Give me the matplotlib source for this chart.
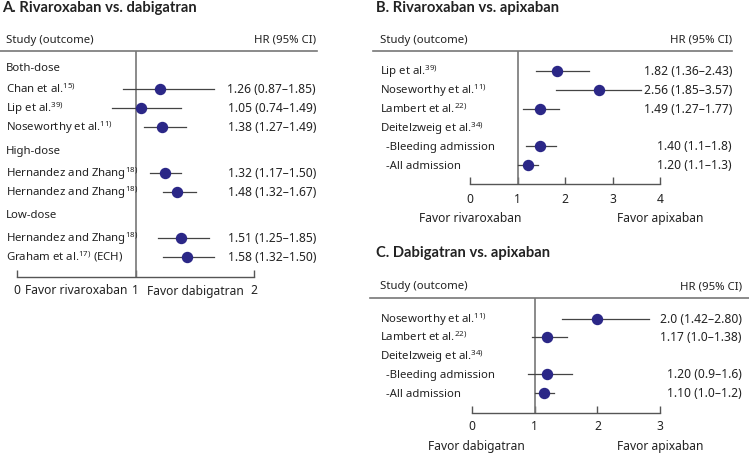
import matplotlib
matplotlib.use('Agg')
import matplotlib.pyplot as plt
from matplotlib.lines import Line2D
import matplotlib.transforms as mtransforms

plt.rcParams['font.family'] = ['Noto Sans', 'DejaVu Sans']
plt.rcParams['mathtext.fontset'] = 'custom'
plt.rcParams['mathtext.rm'] = 'Noto Sans'

# ---------------- data ----------------
# A. Rivaroxaban vs. dabigatran
a_names = ['Both-dose', 'Chan et al.', 'Lip et al.', 'Noseworthy et al.', 'High-dose',
           'Hernandez and Zhang', 'Hernandez and Zhang', 'Low-dose',
           'Hernandez and Zhang', 'Graham et al.']
a_refs = ['', '15)', '39)', '11)', '', '18)', '18)', '', '18)', '17)']
a_suffix = ['', '', '', '', '', '', '', '', '', ' (ECH)']
a_hr_text = ['', '1.26 (0.87\u20131.85)', '1.05 (0.74\u20131.49)', '1.38 (1.27\u20131.49)', '',
             '1.32 (1.17\u20131.50)', '1.48 (1.32\u20131.67)', '',
             '1.51 (1.25\u20131.85)', '1.58 (1.32\u20131.50)']
a_point = [None, 1.20, 1.04, 1.22, None, 1.25, 1.35, None, 1.38, 1.43]
a_low = [None, 0.89, 0.80, 1.07, None, 1.12, 1.23, None, 1.19, 1.23]
a_high = [None, 1.66, 1.38, 1.42, None, 1.38, 1.51, None, 1.62, 1.66]

# B. Rivaroxaban vs. apixaban
b_names = ['Lip et al.', 'Noseworthy et al.', 'Lambert et al.', 'Deitelzweig et al.',
           '  -Bleeding admission', '  -All admission']
b_refs = ['39)', '11)', '22)', '34)', '', '']
b_suffix = [''] * 6
b_hr_text = ['1.82 (1.36\u20132.43)', '2.56 (1.85\u20133.57)', '1.49 (1.27\u20131.77)', '',
             '1.40 (1.1\u20131.8)', '1.20 (1.1\u20131.3)']
b_point = [1.84, 2.71, 1.48, None, 1.48, 1.22]
b_low = [1.38, 1.81, 1.12, None, 1.17, 1.00]
b_high = [2.51, 3.60, 1.87, None, 1.80, 1.44]

# C. Dabigatran vs. apixaban
c_names = ['Noseworthy et al.', 'Lambert et al.', 'Deitelzweig et al.',
           '  -Bleeding admission', '  -All admission']
c_refs = ['11)', '22)', '34)', '', '']
c_suffix = [''] * 5
c_hr_text = ['2.0 (1.42\u20132.80)', '1.17 (1.0\u20131.38)', '', '1.20 (0.9\u20131.6)',
             '1.10 (1.0\u20131.2)']
c_point = [2.00, 1.20, None, 1.20, 1.15]
c_low = [1.43, 0.95, None, 0.89, 1.00]
c_high = [2.82, 1.52, None, 1.60, 1.31]

# ---------------- layout (pixels) ----------------
W, H = 749, 454
fig = plt.figure(figsize=(W / 100, H / 100), dpi=100)

NAVY = '#2b2787'
TXT = '#222222'
GRID = '#777777'
FS = 8.2
BASE = 4.0   # baseline offset below row centre, in pixels


def fx(px):
    return px / W


def fy(py):
    return 1 - py / H


def panel(title, title_xy, hdr_y, line_x, line_y, name_x, hr_x,
          x0_px, x1_px, xmax, axis_y, rows_y, names, refs, suffix, hr_text,
          pt, lo, hi, ticks, favor, tick_pad):
    fig.text(fx(title_xy[0]), fy(title_xy[1]), title, fontsize=10.6, family='Lato',
             fontweight='bold', color=TXT, va='center', ha='left')
    fig.text(fx(name_x), fy(hdr_y), 'Study (outcome)', fontsize=FS, color=TXT, va='center')
    fig.text(fx(hr_x), fy(hdr_y), 'HR (95% CI)', fontsize=FS, color=TXT, va='center', ha='right')
    fig.add_artist(Line2D([fx(line_x[0]), fx(line_x[1])], [fy(line_y), fy(line_y)],
                          color=GRID, lw=1.2, transform=fig.transFigure))

    ax = fig.add_axes([fx(x0_px), fy(axis_y), fx(x1_px) - fx(x0_px), fy(line_y) - fy(axis_y)])
    ax.set_xlim(0, xmax)
    ax.set_ylim(axis_y, line_y)
    ax.patch.set_alpha(0)
    for s in ['top', 'right', 'left']:
        ax.spines[s].set_visible(False)
    ax.spines['bottom'].set_color('#555555')
    ax.spines['bottom'].set_linewidth(1.0)
    ax.set_yticks([])
    ax.set_xticks(ticks)
    ax.set_xticklabels([str(t) for t in ticks])
    ax.tick_params(axis='x', direction='in', length=5, width=1.0, color='#555555',
                   labelsize=FS + 0.5, labelcolor=TXT, pad=tick_pad)
    ax.axvline(1, color=GRID, lw=1.2)

    blend = mtransforms.blended_transform_factory(fig.transFigure, ax.transData)
    for y, nm, rf, sf, ht, p, l, h in zip(rows_y, names, refs, suffix, hr_text, pt, lo, hi):
        label = nm
        if rf:
            label += '$^{\\mathrm{' + rf + '}}$'
        label += sf
        ax.text(fx(name_x), y + BASE, label, transform=blend, fontsize=FS, color=TXT,
                va='baseline', ha='left', clip_on=False)
        if ht:
            ax.text(fx(hr_x), y + BASE, ht, transform=blend, fontsize=FS + 0.5, color=TXT,
                    va='baseline', ha='right', clip_on=False)
        if p is not None:
            ax.plot([l, h], [y, y], color='#444444', lw=0.9, clip_on=False)
            ax.plot(p, y, 'o', color=NAVY, ms=7.2, clip_on=False, zorder=3)

    for xv, ypx, lab in favor:
        ax.text(xv, fy(ypx), lab, transform=mtransforms.blended_transform_factory(
            ax.transData, fig.transFigure), fontsize=FS + 0.5, color=TXT,
            ha='center', va='center')
    return ax


panel('A. Rivaroxaban vs. dabigatran', (2, 8), 40, (0, 317), 50.7, 6, 316,
      17.3, 254.3, 2, 277.3,
      [66.7, 89.3, 108.3, 127, 150, 173, 192, 214.3, 238, 257],
      a_names, a_refs, a_suffix, a_hr_text, a_point, a_low, a_high,
      [0, 1, 2],
      [(0.5, 291, 'Favor rivaroxaban'), (1.5, 291, 'Favor dabigatran')], 4.5)

panel('B. Rivaroxaban vs. apixaban', (376, 8), 40, (373, 732), 50.7, 380, 732,
      470, 660, 4, 184,
      [71, 90, 109, 127.7, 146.3, 164.7],
      b_names, b_refs, b_suffix, b_hr_text, b_point, b_low, b_high,
      [0, 1, 2, 3, 4],
      [(0, 218.3, 'Favor rivaroxaban'), (4, 218.3, 'Favor apixaban')], 6.5)

panel('C. Dabigatran vs. apixaban', (376, 253.3), 286.7, (370, 749), 298.3, 380, 742,
      472.3, 660, 3, 413.3,
      [318.7, 337.3, 356, 374.3, 393],
      c_names, c_refs, c_suffix, c_hr_text, c_point, c_low, c_high,
      [0, 1, 2, 3],
      [(0.07, 446.7, 'Favor dabigatran'), (3.01, 446.7, 'Favor apixaban')], 5)

fig.savefig('out.png', dpi=100, facecolor='white')
